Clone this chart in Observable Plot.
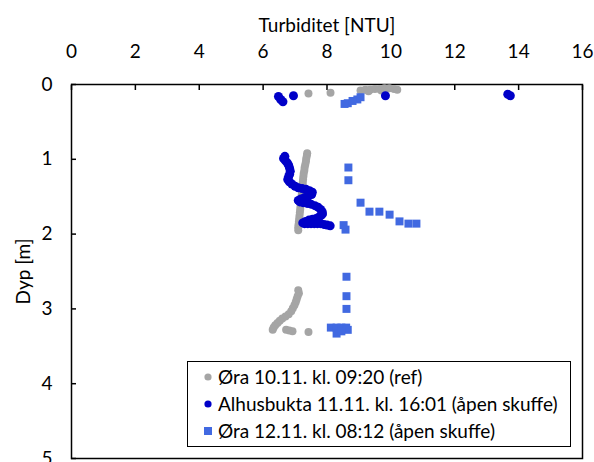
<!DOCTYPE html>
<html>
<head>
<meta charset="utf-8">
<script src="https://cdn.jsdelivr.net/npm/d3@7"></script>
<script src="https://cdn.jsdelivr.net/npm/@observablehq/plot@0.6"></script>
<style>
  body { margin: 0; background: #fff; }
  #wrap { position: relative; width: 594px; height: 462px; overflow: hidden; font-family: Lato, "Open Sans", sans-serif; }
  #legend { position: absolute; left: 187px; top: 361px; width: 382px; height: 84px; border: 1.5px solid #000; background: #fff; }
  .row { position: absolute; left: 0; height: 27px; line-height: 27px; font-size: 19px; color: #000; white-space: nowrap; }
  .row svg { position: absolute; left: 15px; top: 9px; }
  .row span { position: absolute; left: 30px; }
</style>
</head>
<body>
<div id="wrap">
  <div id="chart"></div>
  <div id="legend"></div>
</div>
<script>
// ---- data ----
const xTicks = [0, 2, 4, 6, 8, 10, 12, 14, 16];
const yTicks = [0, 1, 2, 3, 4, 5];
const seriesNames = [
  "Øra 10.11. kl. 09:20 (ref)",
  "Alhusbukta 11.11. kl. 16:01 (åpen skuffe)",
  "Øra 12.11. kl. 08:12 (åpen skuffe)"
];
const seriesColors = ["#A5A5A5", "#0000C8", "#4169E1"];

// Øra 10.11 (ref)
const refNTU = [7.42, 8.11, 9.05, 9.2, 9.35, 9.5, 9.65, 9.8, 9.95, 10.1, 10.2, 9.3, 9.7,
  7.38, 7.37, 7.35, 7.34, 7.32, 7.3, 7.29, 7.27, 7.26, 7.25, 7.24, 7.24, 7.23, 7.22, 7.21, 7.2, 7.19, 7.18, 7.17, 7.16, 7.15, 7.14, 7.13, 7.12, 7.11, 7.1, 7.1,
  7.1, 7.12, 7.08, 7.05, 7.02, 6.98, 6.93, 6.88, 6.8, 6.7, 6.6, 6.52, 6.45, 6.38, 6.33, 6.3, 6.72, 6.82, 6.92, 7.42];
const refDepth = [0.12, 0.11, 0.08, 0.07, 0.07, 0.06, 0.06, 0.05, 0.05, 0.06, 0.07, 0.09, 0.08,
  0.92, 0.95, 0.99, 1.03, 1.07, 1.11, 1.15, 1.19, 1.23, 1.27, 1.31, 1.35, 1.39, 1.43, 1.47, 1.51, 1.55, 1.59, 1.63, 1.67, 1.71, 1.75, 1.79, 1.83, 1.87, 1.91, 1.95,
  2.75, 2.79, 2.83, 2.87, 2.91, 2.95, 2.99, 3.03, 3.07, 3.1, 3.13, 3.16, 3.19, 3.22, 3.25, 3.28, 3.28, 3.29, 3.3, 3.31];

// Alhusbukta 11.11
const alhNTU = [6.48, 6.55, 6.62, 6.95, 9.83, 13.66, 13.74,
  6.68, 6.64, 6.7, 6.76, 6.8, 6.83, 6.85, 6.83, 6.8, 6.77, 6.82, 6.9, 7.0, 7.1, 7.22, 7.34, 7.45, 7.54, 7.52, 7.42, 7.3, 7.18, 7.1, 7.15, 7.25, 7.38, 7.5, 7.62, 7.72, 7.8, 7.85, 7.86, 7.82, 7.75, 7.66, 7.55, 7.44, 7.33, 7.24, 7.3, 7.4, 7.5, 7.6, 7.7, 7.8, 7.9, 8.0, 8.1];
const alhDepth = [0.16, 0.2, 0.23, 0.15, 0.15, 0.13, 0.15,
  0.96, 0.99, 1.02, 1.05, 1.08, 1.12, 1.16, 1.2, 1.23, 1.27, 1.3, 1.33, 1.36, 1.38, 1.39, 1.4, 1.42, 1.44, 1.47, 1.49, 1.51, 1.53, 1.55, 1.57, 1.58, 1.59, 1.6, 1.62, 1.64, 1.67, 1.7, 1.73, 1.75, 1.77, 1.79, 1.8, 1.81, 1.83, 1.85, 1.86, 1.86, 1.86, 1.86, 1.86, 1.86, 1.87, 1.88, 1.89];

// Øra 12.11
const oraNTU = [8.55, 8.65, 8.8, 8.95, 9.05,
  8.67, 8.67, 9.05, 9.33, 9.64, 9.96, 10.27, 10.55, 10.8, 8.52, 8.58,
  8.61, 8.61, 8.61, 8.12, 8.3, 8.45, 8.6, 8.65, 8.3, 8.45];
const oraDepth = [0.26, 0.25, 0.22, 0.2, 0.17,
  1.11, 1.28, 1.58, 1.7, 1.7, 1.74, 1.83, 1.86, 1.86, 1.88, 1.94,
  2.57, 2.83, 3.0, 3.25, 3.25, 3.25, 3.25, 3.28, 3.33, 3.3];

const toRows = (xs, ys) => xs.map((v, i) => ({ntu: v, depth: ys[i]}));
const ref = toRows(refNTU, refDepth);
const alh = toRows(alhNTU, alhDepth);
const ora = toRows(oraNTU, oraDepth);

const chart = Plot.plot({
  width: 594,
  height: 462,
  marginTop: 84,
  marginLeft: 71,
  marginRight: 12,
  marginBottom: 4,
  style: { fontFamily: "Lato, 'Open Sans', sans-serif", fontSize: "19px", color: "#000", background: "#fff" },
  x: { domain: [0, 16] },
  y: { domain: [0, 5], reverse: true },
  marks: [
    Plot.frame({ stroke: "#000", strokeWidth: 1.5 }),
    Plot.axisX(xTicks, { anchor: "top", tickSize: -5, tickPadding: 32, strokeWidth: 1.5, tickFormat: "d", label: "Turbiditet [NTU]", labelAnchor: "center", labelOffset: 66, labelArrow: "none" }),
    Plot.axisY(yTicks, { anchor: "left", tickSize: -5, tickPadding: 24, strokeWidth: 1.5, tickFormat: "d", label: "Dyp [m]", labelAnchor: "center", labelOffset: 55, labelArrow: "none" }),
    Plot.dot(ref, { x: "ntu", y: "depth", r: 4, fill: seriesColors[0] }),
    Plot.dot(alh, { x: "ntu", y: "depth", r: 4.5, fill: seriesColors[1] }),
    Plot.dot(ora, { x: "ntu", y: "depth", r: 4.5, symbol: "square", fill: seriesColors[2] })
  ]
});
document.getElementById("chart").appendChild(chart);

// legend
const legend = document.getElementById("legend");
const markers = [
  '<svg width="10" height="10"><circle cx="5" cy="5" r="3.6" fill="' + seriesColors[0] + '"/></svg>',
  '<svg width="10" height="10"><circle cx="5" cy="5" r="3.6" fill="' + seriesColors[1] + '"/></svg>',
  '<svg width="10" height="10"><rect x="1" y="1" width="8" height="8" fill="' + seriesColors[2] + '"/></svg>'
];
seriesNames.forEach((name, i) => {
  const row = document.createElement("div");
  row.className = "row";
  row.style.top = (1 + i * 27) + "px";
  row.innerHTML = markers[i] + "<span>" + name + "</span>";
  legend.appendChild(row);
});
</script>
</body>
</html>
